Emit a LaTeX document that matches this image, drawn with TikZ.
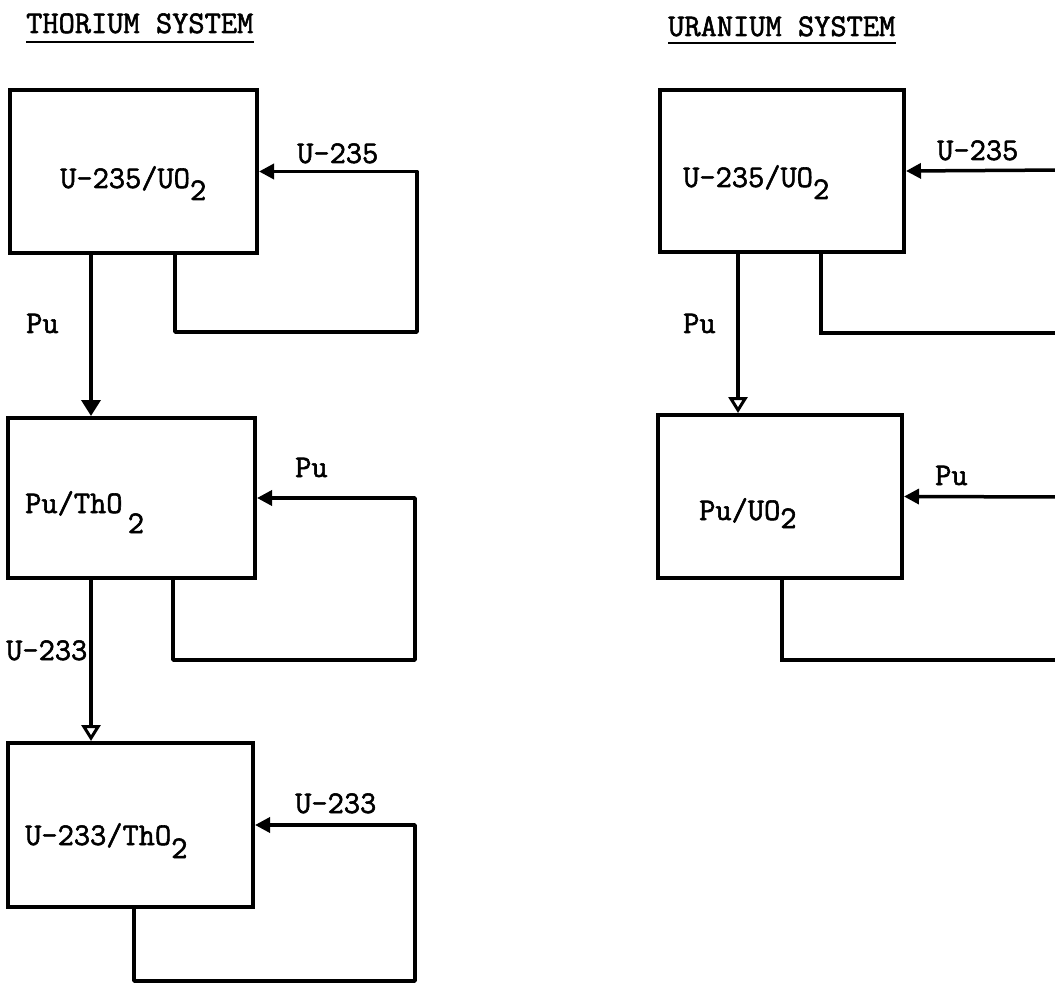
\documentclass[tikz,border=0pt]{standalone}
\usepackage{fontspec}
\newfontfamily\twfont{Latin Modern Mono}[FakeBold=1.8]
\usetikzlibrary{arrows.meta}
\newcommand{\dnsub}[2]{\raisebox{-#1}{#2}}
\begin{document}
\begin{tikzpicture}[x=1pt,y=-1pt,
  box/.style={draw, line width=4pt, inner sep=0pt},
  lbl/.style={inner sep=0pt, anchor=base west, font=\twfont\fontsize{31.5}{34}\selectfont},
  flow/.style={line width=3.5pt},
  arrf/.style={flow, -{Triangle[length=15pt,width=15pt]}},
  arrd/.style={flow, -{Triangle[length=16pt,width=19pt]}},
  arro/.style={flow, -{Triangle[open,length=16pt,width=19pt,line width=3pt]}},
  uline/.style={line width=2pt}]
\useasboundingbox (0,0) rectangle (1055,984);
\clip (0,0) rectangle (1055,984);
\fill[white] (0,0) rectangle (1055,984);

% titles
\node[lbl] (tth) at (26,33) {THORIUM SYSTEM};
\draw[uline] ([yshift=-9pt]tth.base west) -- ([yshift=-9pt]tth.base east);
\node[lbl] (tur) at (668,36) {URANIUM SYSTEM};
\draw[uline] ([yshift=-7pt]tur.base west) -- ([yshift=-7pt]tur.base east);

% thorium boxes
\node[box, minimum width=247pt, minimum height=163pt] (b1) at (133.5,171.5) {};
\node[box, minimum width=247pt, minimum height=160pt] (b2) at (131.5,498) {};
\node[box, minimum width=245pt, minimum height=164pt] (b3) at (130.5,825) {};

\node[lbl] (l1) at (60,188) {U-235/UO\dnsub{12pt}{2}};
\node[lbl] (l2) at (25,513) {Pu/ThO\,\dnsub{20pt}{2}};
\node[lbl] (l3) at (25,845) {U-233/ThO\dnsub{13pt}{2}};

% thorium connectors
\draw[arrd] (b1.south -| 91,0) -- (b2.north -| 91,0);
\draw[arro] (b2.south -| 91,0) -- (b3.north -| 91,0);
\node[lbl] (pu1) at (26,333) {Pu};
\node[lbl] (u233a) at (6,660) {U-233};

\coordinate (r1) at (417,332);
\draw[arrf, line join=round] (b1.south -| 175,0) -- (175,332) -- (r1) |- (b1.east);
\node[lbl] (f1) at (297,163) {U-235};

\coordinate (r2) at (415,660);
\draw[arrf, line join=round] (b2.south -| 173,0) -- (173,660) -- (r2) |- (b2.east);
\node[lbl] (f2) at (295,477) {Pu};

\coordinate (r3) at (415,981);
\draw[arrf, line join=round] (b3.south -| 134,0) -- (134,981) -- (r3) |- (b3.east);
\node[lbl] (f3) at (295,813) {U-233};

% uranium boxes
\node[box, minimum width=244pt, minimum height=162pt] (u1) at (782,171) {};
\node[box, minimum width=244pt, minimum height=163pt] (u2) at (780,496.5) {};
\node[lbl] (ul1) at (683,187) {U-235/UO\dnsub{12pt}{2}};
\node[lbl] (ul2) at (699,520) {Pu/UO\dnsub{8pt}{2}};

\draw[arro] (u1.south -| 738,0) -- (u2.north -| 738,0);
\node[lbl] (pu2) at (683,333) {Pu};

\coordinate (e1) at (1065,333);
\coordinate (e1b) at (1065,170);
\draw[flow] (u1.south -| 821,0) |- (e1);
\draw[arrf] (e1b) -- (u1.east);
\node[lbl] (uf1) at (937,160) {U-235};

\coordinate (e2) at (1065,660);
\coordinate (e2b) at (1065,497);
\draw[flow] (u2.south -| 782,0) |- (e2);
\draw[arrf] (e2b) -- (u2.east);
\node[lbl] (uf2) at (935,485) {Pu};
\end{tikzpicture}
\end{document}
